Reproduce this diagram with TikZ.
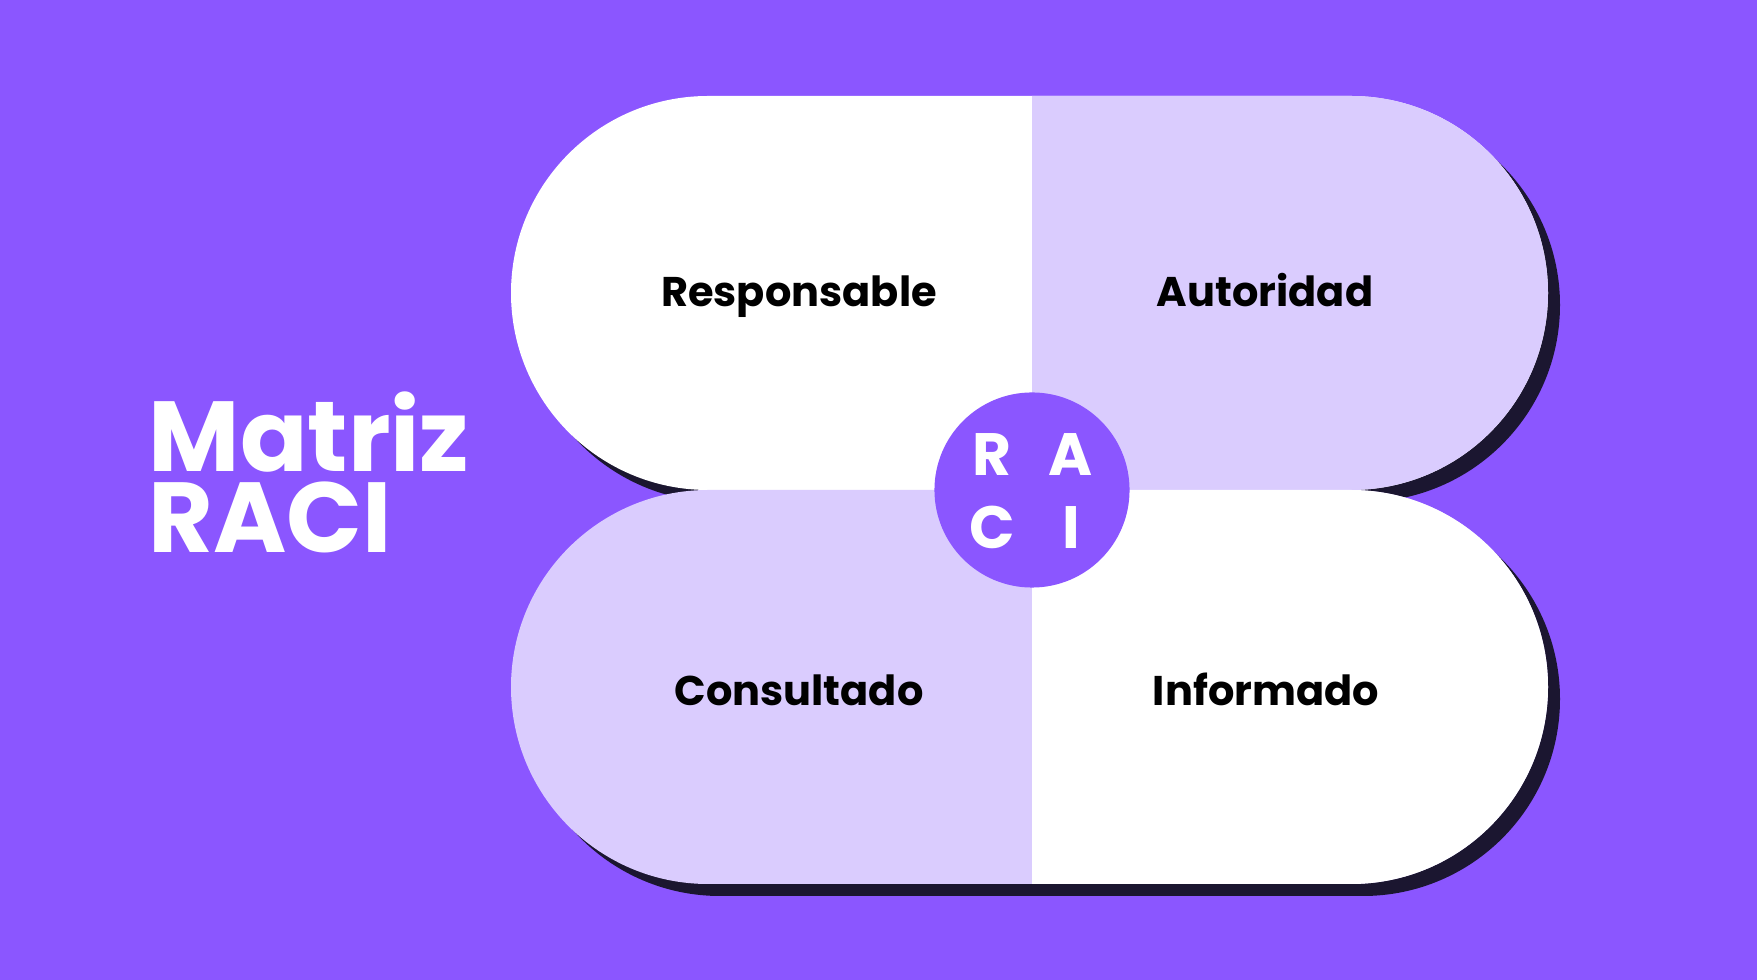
\documentclass[tikz,border=0pt]{standalone}
\usepackage{fontspec}
\setmainfont{Poppins}
\usetikzlibrary{positioning}
\definecolor{bgpurple}{HTML}{8B56FF}
\definecolor{lavender}{HTML}{DACCFE}
\definecolor{shadowdark}{HTML}{1B1630}

\begin{document}
\begin{tikzpicture}[x=0.01cm, y=-0.01cm]
    % Define styles
    \tikzstyle{pill} = [rounded corners=1.969cm]
    \tikzstyle{role} = [anchor=base, inner sep=0pt, text=black, font=\bfseries\fontsize{11.8}{14}\selectfont]
    \tikzstyle{heading} = [anchor=base west, inner sep=0pt, text height=20pt, text depth=0pt, text=white, font=\bfseries\fontsize{28.3}{30}\selectfont]
    \tikzstyle{raciletter} = [anchor=base, inner sep=0pt, text=white, font=\bfseries\fontsize{17}{18}\selectfont]

    % Background
    \fill[bgpurple] (0,0) rectangle (1757,980);
    \useasboundingbox (0,0) rectangle (1757,980);

    % Shadows
    \fill[shadowdark, pill] (523,108) rectangle (1560,502);
    \fill[shadowdark, pill] (523,502) rectangle (1560,896);

    % Top pill (white left, lavender right)
    \fill[white, pill] (511,96) rectangle (1548,490);
    \begin{scope}
        \clip (1032,0) rectangle (1757,980);
        \fill[lavender, pill] (511,96) rectangle (1548,490);
    \end{scope}

    % Bottom pill (lavender left, white right)
    \fill[lavender, pill] (511,490) rectangle (1548,884);
    \begin{scope}
        \clip (1032,0) rectangle (1757,980);
        \fill[white, pill] (511,490) rectangle (1548,884);
    \end{scope}

    % Centre badge
    \node[circle, fill=bgpurple, minimum size=1.95cm, inner sep=0pt] (badge) at (1032,490) {};
    \node[raciletter] (lR) at ([shift={(-40,-14)}]badge.center) {R};
    \node[raciletter] (lA) at ([shift={(39,-14)}]badge.center) {A};
    \node[raciletter] (lC) at ([shift={(-40,59)}]badge.center) {C};
    \node[raciletter] (lI) at ([shift={(39,59)}]badge.center) {I};

    % Quadrant labels
    \node[role] (resp) at (799,307) {Responsable};
    \node[role] (auto) at (1265,307) {Autoridad};
    \node[role] (cons) at (799,706) {Consultado};
    \node[role] (info) at (1266,706) {Informado};

    % Title
    \node[heading] (matriz) at (148,472) {Matriz};
    \node[heading] (raciword) at ([shift={(0,81)}]matriz.base west) {RACI};
\end{tikzpicture}
\end{document}
